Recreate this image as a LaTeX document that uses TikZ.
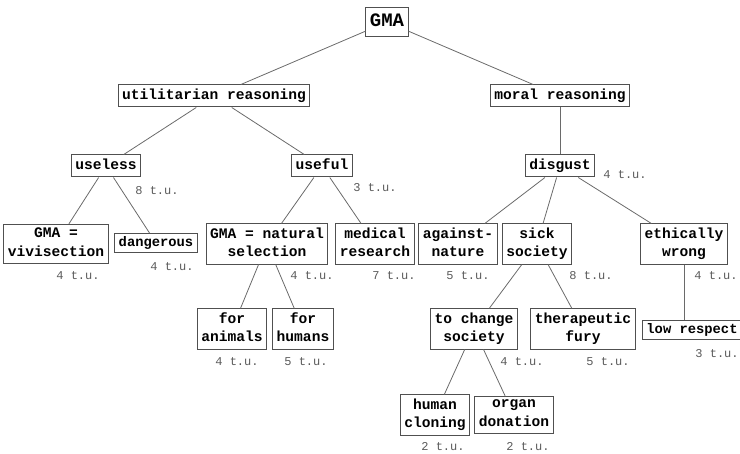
\documentclass[tikz,border=0pt]{standalone}
\usepackage{fontspec}
\setmonofont{Liberation Mono}
\definecolor{boxgray}{HTML}{505050}
\definecolor{tugray}{HTML}{5A5A5A}
\definecolor{linegray}{HTML}{6A6A6A}
\newcommand\topstrut{\rule{0pt}{11pt}}
\newcommand\botstrut{\rule[-4pt]{0pt}{4pt}}

\begin{document}
\begin{tikzpicture}[x=1pt, y=-1pt,
    box/.style={draw=boxgray, line width=1pt, align=center, inner xsep=4pt, inner ysep=3.5pt,
        font=\ttfamily\bfseries\fontsize{14.6}{18.5}\selectfont,
        execute at begin node=\topstrut, execute at end node=\botstrut},
    smallbox/.style={box, inner ysep=2pt, font=\ttfamily\bfseries\fontsize{13.8}{18.5}\selectfont},
    rootbox/.style={box, font=\ttfamily\bfseries\fontsize{19}{21}\selectfont, inner xsep=4pt, inner ysep=6pt},
    tu/.style={text=tugray, inner sep=0pt, font=\ttfamily\fontsize{12}{14}\selectfont},
    link/.style={draw=linegray, line width=0.8pt}]
    \useasboundingbox (0,0) rectangle (740,454);
    \node[rootbox] (gma) at (387,22) {GMA};
    \node[box] (util) at (214,96) {utilitarian reasoning};
    \node[box] (moral) at (560,96) {moral reasoning};
    \node[box] (useless) at (106,166) {useless};
    \node[box] (useful) at (322,166) {useful};
    \node[box] (disgust) at (560,166) {disgust};
    \node[box] (viv) at (56,244) {GMA =\\vivisection};
    \node[smallbox] (danger) at (156,243) {dangerous};
    \node[box] (natsel) at (267,244) {GMA = natural\\selection};
    \node[box] (medical) at (375,244) {medical\\research};
    \node[box] (against) at (458,244) {against-\\nature};
    \node[box] (sick) at (537,244) {sick\\society};
    \node[box] (ethic) at (684,244) {ethically\\wrong};
    \node[box] (animals) at (232,329) {for\\animals};
    \node[box] (humans) at (303,329) {for\\humans};
    \node[box] (change) at (474,329) {to change\\society};
    \node[box] (therapy) at (583,329) {therapeutic\\fury};
    \node[smallbox] (low) at (692,330) {low respect};
    \node[box] (cloning) at (435,415) {human\\cloning};
    \node[box] (organ) at (514,415) {organ\\donation};

    \node[tu] (tuUseless) at (157,191) {8 t.u.};
    \node[tu] (tuUseful) at (375,188) {3 t.u.};
    \node[tu] (tuDisgust) at (625,175) {4 t.u.};
    \node[tu] (tuViv) at (78,276) {4 t.u.};
    \node[tu] (tuDanger) at (172,267) {4 t.u.};
    \node[tu] (tuNatsel) at (312,276) {4 t.u.};
    \node[tu] (tuMedical) at (394,276) {7 t.u.};
    \node[tu] (tuAgainst) at (468,276) {5 t.u.};
    \node[tu] (tuSick) at (591,276) {8 t.u.};
    \node[tu] (tuEthic) at (716,276) {4 t.u.};
    \node[tu] (tuAnimals) at (237,362) {4 t.u.};
    \node[tu] (tuHumans) at (306,362) {5 t.u.};
    \node[tu] (tuChange) at (522,362) {4 t.u.};
    \node[tu] (tuTherapy) at (608,362) {5 t.u.};
    \node[tu] (tuLow) at (717,354) {3 t.u.};
    \node[tu] (tuCloning) at (443,447) {2 t.u.};
    \node[tu] (tuOrgan) at (528,447) {2 t.u.};

    \draw[link] (gma) -- (util);
    \draw[link] (gma) -- (moral);
    \draw[link] (util) -- (useless);
    \draw[link] (util) -- (useful);
    \draw[link] (moral) -- (disgust);
    \draw[link] (useless) -- (viv);
    \draw[link] (useless) -- (danger);
    \draw[link] (useful) -- (natsel);
    \draw[link] (useful) -- (medical);
    \draw[link] (disgust) -- (against);
    \draw[link] (disgust) -- (sick);
    \draw[link] (disgust) -- (ethic);
    \draw[link] (natsel) -- (animals);
    \draw[link] (natsel) -- (humans);
    \draw[link] (sick) -- (change);
    \draw[link] (sick) -- (therapy);
    \draw[link] (ethic) -- (ethic |- low.north);
    \draw[link] (change) -- (cloning);
    \draw[link] (change) -- (organ);
\end{tikzpicture}
\end{document}
